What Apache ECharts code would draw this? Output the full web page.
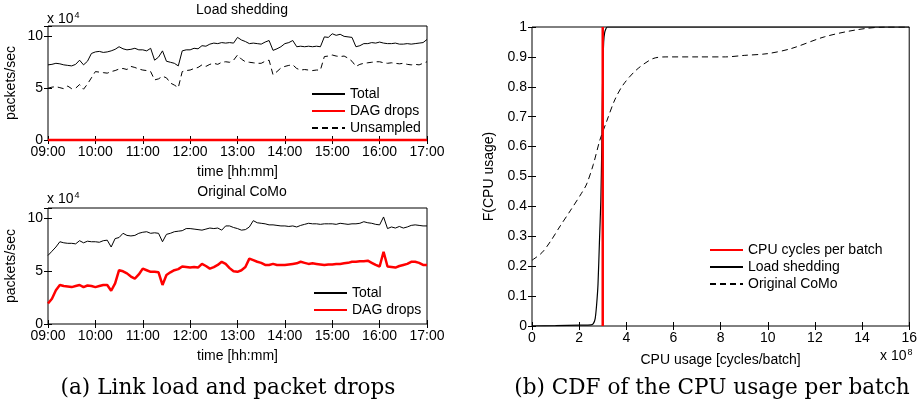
<!DOCTYPE html>
<html><head><meta charset="utf-8">
<script src="https://cdn.jsdelivr.net/npm/echarts@6.0.0/dist/echarts.min.js"></script>
<style>html,body{margin:0;padding:0;background:#fff}#c{width:920px;height:404px}</style>
</head><body><div id="c"></div>
<script>
// ---------- data ----------
const timeTicks = ['09:00','10:00','11:00','12:00','13:00','14:00','15:00','16:00','17:00'];
const sampleStepMin = 5; // one sample every 5 minutes, 09:00 .. 17:00

// Load shedding (x 10^4 packets/sec)
const lsTotal = [
  7.25,7.3,7.4,7.35,7.25,7.2,7.15,7.3,7.7,7.25,7.6,8.35,
  8.5,8.55,8.45,8.5,8.6,8.75,9.0,8.8,8.7,8.75,8.85,8.7,
  8.7,8.6,8.85,7.7,8.0,8.6,7.6,7.5,7.4,7.15,8.6,8.7,
  8.7,8.85,8.8,9.1,9.05,9.25,9.35,9.3,9.4,9.35,9.4,9.35,
  9.9,9.65,9.5,9.3,9.35,9.3,9.25,9.45,9.6,8.65,8.8,9.0,
  9.3,9.4,9.6,9.0,9.05,9.0,9.05,9.0,9.05,9.0,9.95,9.9,
  10.25,10.1,10.2,10.0,9.95,9.9,9.0,9.1,9.3,9.3,9.4,9.35,
  9.45,9.35,9.3,9.3,9.35,9.25,9.25,9.3,9.25,9.3,9.35,9.4,
  9.7];
const lsDagDrops = [
  0,0,0,0,0,0,0,0,0,0,0,0, 0,0,0,0,0,0,0,0,0,0,0,0,
  0,0,0,0,0,0,0,0,0,0,0,0, 0,0,0,0,0,0,0,0,0,0,0,0,
  0,0,0,0,0,0,0,0,0,0,0,0, 0,0,0,0,0,0,0,0,0,0,0,0,
  0,0,0,0,0,0,0,0,0,0,0,0, 0,0,0,0,0,0,0,0,0,0,0,0,
  0];
const lsUnsampled = [
  5.0,5.1,5.15,5.05,4.95,5.2,4.95,5.0,5.35,4.9,5.4,6.0,
  6.6,6.55,6.5,6.45,6.6,6.7,6.85,6.9,6.8,7.1,7.0,6.85,
  6.75,6.7,6.6,5.8,5.9,6.15,6.0,5.5,5.3,5.05,6.6,6.7,
  6.75,6.9,7.0,7.25,7.1,7.3,7.4,7.3,7.5,7.55,7.5,7.7,
  8.2,7.8,7.55,7.5,7.45,7.4,7.4,7.6,7.7,6.3,6.6,6.95,
  7.1,7.2,7.25,6.9,6.75,6.8,6.75,6.7,6.75,6.75,8.05,8.1,
  8.2,8.1,8.05,8.1,7.9,7.6,7.1,7.3,7.4,7.45,7.5,7.55,
  7.55,7.45,7.4,7.45,7.4,7.35,7.4,7.3,7.25,7.3,7.25,7.4,
  7.55];

// Original CoMo (x 10^4 packets/sec)
const ocTotal = [
  6.5,6.9,7.3,7.8,7.7,7.65,7.65,7.6,7.9,7.7,7.85,7.8,
  7.8,7.75,7.9,7.95,7.3,8.1,8.2,8.6,8.4,8.35,8.4,8.6,
  8.7,8.75,8.6,8.65,8.6,7.8,8.5,8.6,8.75,8.8,8.85,9.05,
  9.05,9.0,8.95,8.9,9.0,9.1,9.05,9.1,8.9,9.3,9.3,9.15,
  9.05,8.9,8.95,9.2,9.8,9.6,9.55,9.5,9.4,9.4,9.35,9.3,
  9.3,9.25,9.3,9.2,9.35,9.45,9.55,9.5,9.5,9.45,9.5,9.5,
  9.5,9.45,9.55,9.5,9.45,9.5,9.5,9.55,9.7,9.6,9.55,9.45,
  9.4,10.15,9.05,9.2,9.1,9.25,9.1,9.2,9.35,9.4,9.35,9.3,
  9.3];
const ocDagDrops = [
  1.95,2.4,3.2,3.7,3.6,3.55,3.5,3.6,3.7,3.5,3.65,3.6,
  3.5,3.6,3.7,3.7,3.15,3.85,5.1,5.0,4.8,4.5,4.3,4.7,
  5.25,5.1,4.95,4.95,4.9,3.7,4.65,4.9,5.1,5.2,5.45,5.4,
  5.35,5.4,5.35,5.7,5.5,5.25,5.4,5.6,5.9,5.7,5.3,5.0,
  4.95,5.1,5.4,6.2,6.05,5.9,5.8,5.6,5.6,5.7,5.6,5.6,
  5.6,5.65,5.7,5.75,5.9,5.8,5.7,5.75,5.7,5.65,5.6,5.65,
  5.65,5.7,5.7,5.75,5.8,5.9,5.9,5.95,5.95,6.0,5.8,5.6,
  5.45,6.85,5.45,5.4,5.35,5.5,5.6,5.7,5.9,5.9,5.8,5.6,
  5.6];

// CDF of CPU usage (x in units of 10^8 cycles/batch)
const cpuBudget = 3;
const lsCpuX   = [0,1,2,2.5,2.6,2.68,2.74,2.8,2.86,2.92,2.96,3.0,3.04,3.08,3.14,3.2,16];
const lsCdf    = [0,0.001,0.003,0.004,0.008,0.025,0.07,0.14,0.28,0.42,0.6,0.85,0.95,0.98,0.995,1,1];
const comoCpuX = [0,0.42,0.8,1.2,1.62,2.1,2.32,2.6,2.88,3.16,3.51,3.86,4.42,5.12,5.68,7,8.2,9,10,11,12.4,13.8,15,16];
const comoCdf  = [0.22,0.245,0.285,0.335,0.385,0.444,0.475,0.54,0.622,0.683,0.756,0.806,0.856,0.894,0.9,0.9,0.9,0.905,0.911,0.928,0.967,0.991,1,1];

// ---------- chart ----------
const SANS = 'Liberation Sans, Arial, Helvetica, sans-serif';
const SERIF = 'DejaVu Serif, Liberation Serif, serif';
const txt = {color:'#000', fontFamily:SANS, fontSize:14};

function ts(arr){ return arr.map((v,i)=>[i*sampleStepMin, v]); }
function xy(xs, ys){ return xs.map((x,i)=>[x, ys[i]]); }
function minToLabel(m){ const i = Math.round(m/60); return timeTicks[i] || ''; }

const grids = [
  {left:48, top:26, width:379, height:114},
  {left:48, top:208, width:379, height:116},
  {left:532, top:27, width:380, height:299}
];
grids.forEach(g=>{ g.show=true; g.borderColor='#000'; g.borderWidth=1; g.backgroundColor='transparent'; g.containLabel=false; });

const tickIn = {show:true, inside:true, length:4, lineStyle:{color:'#000', width:1}};
function xPair(gi, min, max, interval, fmt, name){
  return [
    {type:'value', gridIndex:gi, position:'bottom', min, max, interval,
     axisLine:{show:false}, axisTick:tickIn, splitLine:{show:false},
     axisLabel:Object.assign({margin:5, formatter:fmt, showMaxLabel:true}, txt),
     name, nameLocation:'middle', nameGap:gi===2?27:25, nameTextStyle:txt},
    {type:'value', gridIndex:gi, position:'top', min, max, interval,
     axisLine:{show:false}, axisTick:tickIn, splitLine:{show:false}, axisLabel:{show:false}}
  ];
}
function yPair(gi, min, max, interval, fmt, name, gap){
  return [
    {type:'value', gridIndex:gi, position:'left', min, max, interval,
     axisLine:{show:false}, axisTick:tickIn, splitLine:{show:false},
     axisLabel:Object.assign({margin:5, formatter:fmt, showMaxLabel:true}, txt),
     name, nameLocation:'middle', nameGap:gap, nameTextStyle:txt},
    {type:'value', gridIndex:gi, position:'right', min, max, interval,
     axisLine:{show:false}, axisTick:tickIn, splitLine:{show:false}, axisLabel:{show:false}}
  ];
}

const xAxes = [].concat(
  xPair(0, 0, 480, 60, minToLabel, 'time [hh:mm]'),
  xPair(1, 0, 480, 60, minToLabel, 'time [hh:mm]'),
  xPair(2, 0, 16, 2, v=>String(v), 'CPU usage [cycles/batch]')
);
const yAxes = [].concat(
  yPair(0, 0, 11, 5, v=>(v%5===0?String(v):''), 'packets/sec', 30),
  yPair(1, 0, 11, 5, v=>(v%5===0?String(v):''), 'packets/sec', 30),
  yPair(2, 0, 1, 0.1, v=>(v===0||v===1?String(v):v.toFixed(1)), 'F(CPU usage)', 36)
);

const blackThin = {color:'#000', width:1};
const noSym = {showSymbol:false, symbol:'none'};
const series = [
  Object.assign({name:'Total', type:'line', xAxisIndex:0, yAxisIndex:0, data:ts(lsTotal), lineStyle:blackThin, itemStyle:{color:'#000'}, z:3}, noSym),
  Object.assign({name:'DAG drops', type:'line', xAxisIndex:0, yAxisIndex:0, data:ts(lsDagDrops), clip:false, lineStyle:{color:'#ff0000', width:2.5}, itemStyle:{color:'#ff0000'}, z:4}, noSym),
  Object.assign({name:'Unsampled', type:'line', xAxisIndex:0, yAxisIndex:0, data:ts(lsUnsampled), lineStyle:{color:'#000', width:1, type:[6,4]}, itemStyle:{color:'#000'}, z:3}, noSym),

  Object.assign({name:'Total', type:'line', xAxisIndex:2, yAxisIndex:2, data:ts(ocTotal), lineStyle:blackThin, itemStyle:{color:'#000'}, z:3}, noSym),
  Object.assign({name:'DAG drops', type:'line', xAxisIndex:2, yAxisIndex:2, data:ts(ocDagDrops), lineStyle:{color:'#ff0000', width:2.5}, itemStyle:{color:'#ff0000'}, z:4}, noSym),

  Object.assign({name:'CPU cycles per batch', type:'line', xAxisIndex:4, yAxisIndex:4, data:[[cpuBudget,0],[cpuBudget,1]], clip:false, lineStyle:{color:'#ff0000', width:2.5}, itemStyle:{color:'#ff0000'}, z:4}, noSym),
  Object.assign({name:'Load shedding', type:'line', xAxisIndex:4, yAxisIndex:4, data:xy(lsCpuX, lsCdf), smooth:0.2, lineStyle:{color:'#000', width:1.2}, itemStyle:{color:'#000'}, z:3}, noSym),
  Object.assign({name:'Original CoMo', type:'line', xAxisIndex:4, yAxisIndex:4, data:xy(comoCpuX, comoCdf), smooth:0.3, lineStyle:{color:'#000', width:1, type:[6,4]}, itemStyle:{color:'#000'}, z:3}, noSym)
];

const legendBase = {orient:'vertical', itemWidth:33, itemHeight:14, itemGap:3, selectedMode:false,
  itemStyle:{opacity:0}, textStyle:Object.assign({}, txt)};
const legends = [
  Object.assign({}, legendBase, {left:306, top:82, data:['Total','DAG drops','Unsampled']}),
  Object.assign({}, legendBase, {left:308, top:281, data:['Total','DAG drops']}),
  Object.assign({}, legendBase, {left:704, top:238, data:['CPU cycles per batch','Load shedding','Original CoMo']})
];

const titles = [
  {text:'Load shedding', left:237, top:-2, textAlign:'center', textStyle:Object.assign({fontWeight:'normal'}, txt)},
  {text:'Original CoMo', left:237, top:180, textAlign:'center', textStyle:Object.assign({fontWeight:'normal'}, txt)}
];

const supRich = {a:{fontFamily:SANS, fontSize:14, color:'#000'}, b:{fontFamily:SANS, fontSize:9, color:'#000', verticalAlign:'top', padding:[0,0,8,1]}};
const graphics = [
  {type:'text', left:47, top:11, style:{text:'{a|x 10}{b|4}', rich:supRich}},
  {type:'text', left:47, top:191, style:{text:'{a|x 10}{b|4}', rich:supRich}},
  {type:'text', left:880, top:348, style:{text:'{a|x 10}{b|8}', rich:supRich}},
  {type:'text', x:228, y:388, style:{text:'(a) Link load and packet drops', fontFamily:SERIF, fontSize:21.6, fill:'#000', align:'center', verticalAlign:'middle'}},
  {type:'text', x:712, y:388, style:{text:'(b) CDF of the CPU usage per batch', fontFamily:SERIF, fontSize:21.6, fill:'#000', align:'center', verticalAlign:'middle'}}
];

const chart = echarts.init(document.getElementById('c'), null, {renderer:'canvas'});
chart.setOption({
  animation:false,
  backgroundColor:'#fff',
  title:titles,
  grid:grids,
  xAxis:xAxes,
  yAxis:yAxes,
  legend:legends,
  series:series,
  graphic:graphics
});
</script>
</body></html>
